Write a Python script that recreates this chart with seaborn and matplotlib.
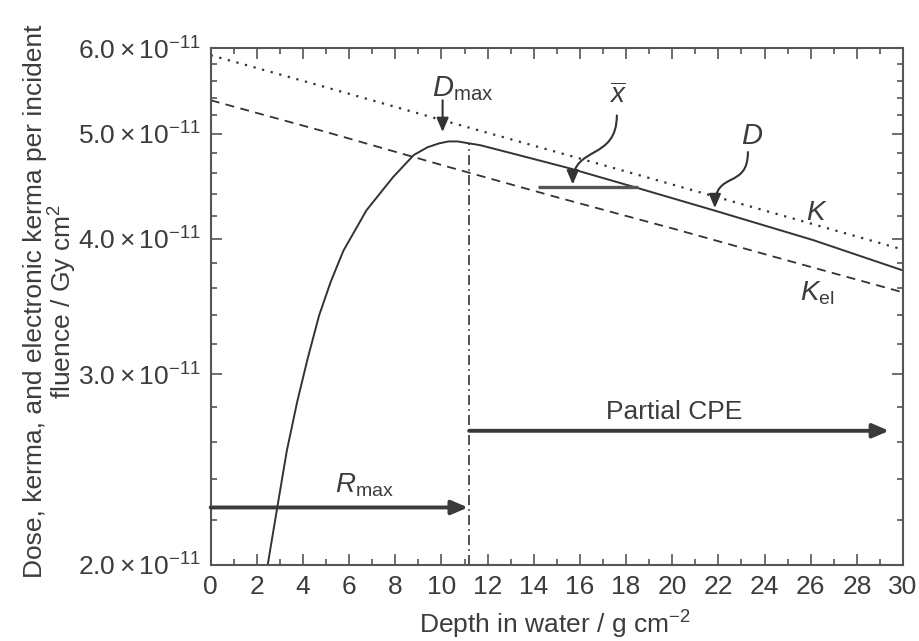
import numpy as np
import pandas as pd
import seaborn as sns
import matplotlib.pyplot as plt
from matplotlib.patches import FancyArrowPatch
from matplotlib.path import Path

# values (units of 1e-11 Gy cm^2)
depth_k = [0, 5, 10, 15, 20, 25, 30]
kerma = [5.91, 5.52, 5.15, 4.81, 4.49, 4.19, 3.91]
kerma_el = [5.37, 5.02, 4.68, 4.37, 4.09, 3.82, 3.57]

depth_d = [2.47, 2.9, 3.3, 3.75, 4.2, 4.7, 5.2, 5.75, 6.75, 7.9, 8.8, 9.4, 9.9,
           10.3, 10.7, 11.2, 11.7, 13.5, 15.5, 18.6, 21.8, 26.1, 30]
dose = [2.00, 2.27, 2.55, 2.83, 3.10, 3.40, 3.65, 3.90, 4.25, 4.56, 4.78, 4.86, 4.90,
        4.92, 4.92, 4.90, 4.88, 4.77, 4.65, 4.45, 4.25, 3.99, 3.74]

r_max = 11.2
xbar_depth = [14.2, 18.5]
xbar_level = 4.47

y_major = [2, 3, 4, 5, 6]
y_labels = [r"$2.0\times10^{-11}$", r"$3.0\times10^{-11}$", r"$4.0\times10^{-11}$",
            r"$5.0\times10^{-11}$", r"$6.0\times10^{-11}$"]
x_major = list(range(0, 31, 2))

E = 1e-11
ink = "#333333"
txt = "#3c3c3c"

sns.set_style("ticks")
plt.rcParams["font.family"] = ["Liberation Sans", "DejaVu Sans"]
plt.rcParams["mathtext.fontset"] = "custom"
plt.rcParams["mathtext.rm"] = "Liberation Sans"
plt.rcParams["mathtext.it"] = "Liberation Sans:italic"
plt.rcParams["mathtext.bf"] = "Liberation Sans:bold"

fig = plt.figure(figsize=(9.2, 6.41), dpi=100)
ax = fig.add_axes([0.229, 0.1186, 0.7525, 0.8064])

sns.lineplot(x=depth_k, y=np.array(kerma) * E, ax=ax, color=ink, lw=1.6,
             linestyle=(0, (1, 3)))
sns.lineplot(x=depth_k, y=np.array(kerma_el) * E, ax=ax, color=ink, lw=1.3,
             linestyle=(0, (5, 3.5)))
sns.lineplot(x=depth_d, y=np.array(dose) * E, ax=ax, color=ink, lw=1.4, sort=False)

ax.set_yscale("log")
ax.set_xlim(0, 30)
ax.set_ylim(2 * E, 6 * E)

# R_max marker line
d_at_rmax = np.interp(r_max, depth_d, dose)
ax.plot([r_max, r_max], [2 * E, d_at_rmax * E], color=ink, lw=1.2, linestyle=(0, (6, 2.5, 1, 2.5)))

# x-bar horizontal line
ax.plot(xbar_depth, [xbar_level * E] * 2, color="#555555", lw=2.4, solid_capstyle="butt")

arrow_kw = dict(arrowstyle="-|>,head_length=0.7,head_width=0.3", color="#3a3a3a",
                lw=2.8, shrinkA=0, shrinkB=0, mutation_scale=14)
ax.annotate("", xy=(r_max - 0.05, 2.26 * E), xytext=(0, 2.26 * E), arrowprops=arrow_kw)
ax.annotate("", xy=(29.4, 2.66 * E), xytext=(r_max, 2.66 * E), arrowprops=arrow_kw)

ax.annotate("", xy=(10.05, 5.02 * E), xytext=(10.05, 5.37 * E),
            arrowprops=dict(arrowstyle="-|>,head_length=0.7,head_width=0.3", color=ink,
                            lw=1.5, shrinkA=0, shrinkB=0, mutation_scale=12))

# curved pointers
for pts in ([(17.6, 5.20), (17.6, 4.72), (15.69, 4.88), (15.69, 4.49)],
            [(23.28, 4.81), (23.28, 4.44), (21.85, 4.63), (21.85, 4.27)]):
    verts = [(x, y * E) for x, y in pts]
    p = Path(verts, [Path.MOVETO, Path.CURVE4, Path.CURVE4, Path.CURVE4])
    ax.add_patch(FancyArrowPatch(path=p, arrowstyle="-|>,head_length=0.7,head_width=0.3",
                                 mutation_scale=12, lw=1.5, color=ink))

fs = 19
ax.text(9.6, 5.5 * E, r"$D_{\rm max}$", fontsize=21, color=txt, ha="left", va="center")
ax.text(5.4, 2.37 * E, r"$R_{\rm max}$", fontsize=20, color=txt, ha="left", va="center")
ax.text(20.1, 2.77 * E, "Partial CPE", fontsize=19, color=txt, ha="center", va="center")
ax.text(17.65, 5.42 * E, r"$\overline{x}$", fontsize=20, color=txt, ha="center", va="center")
ax.text(23.45, 4.98 * E, r"$D$", fontsize=21, color=txt, ha="center", va="center")
ax.text(26.27, 4.23 * E, r"$K$", fontsize=20, color=txt, ha="center", va="center")
ax.text(26.3, 3.56 * E, r"$K_{\rm el}$", fontsize=20, color=txt, ha="center", va="center")

ax.set_xticks(x_major)
ax.set_xticks(range(0, 31), minor=True)
ax.set_yticks([v * E for v in y_major], labels=y_labels)
ax.set_yticks([v / 10 * E for v in range(20, 61, 2) if v % 10], minor=True)
ax.yaxis.set_minor_formatter(plt.NullFormatter())

ax.tick_params(which="both", direction="in", top=True, right=True, colors="#555555",
               labelcolor=txt, labelsize=19, width=1.2)
ax.tick_params(which="major", length=8, pad=7)
ax.tick_params(which="minor", length=4.5)
for s in ax.spines.values():
    s.set_color("#555555")
    s.set_linewidth(1.5)

ax.set_xlabel(r"Depth in water / g cm$^{-2}$", fontsize=fs, color=txt)
ax.set_ylabel("Dose, kerma, and electronic kerma per incident\nfluence / Gy cm$^2$",
              fontsize=fs, color=txt, linespacing=1.0)
ax.xaxis.set_label_coords(0.497, -0.085)
ax.yaxis.set_label_coords(-0.19, 0.51)

fig.savefig("out.png", dpi=100, facecolor="white")
